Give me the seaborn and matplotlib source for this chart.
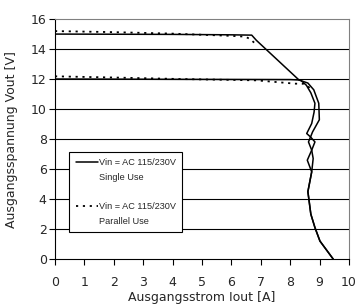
import numpy as np
import pandas as pd
import seaborn as sns
import matplotlib.pyplot as plt
from matplotlib.lines import Line2D

# Single use, 15 V output (solid)
single15_x = [0, 2, 4, 6, 6.69, 6.85, 8.3, 8.6, 8.8, 8.97, 8.99, 8.76, 8.69, 8.62, 8.73, 8.78, 8.73, 8.6, 8.7, 8.84, 9.01, 9.46]
single15_y = [15.02, 15.01, 15.0, 14.97, 14.95, 14.6, 11.95, 11.75, 11.3, 10.4, 9.3, 8.49, 8.15, 7.82, 7.27, 6.71, 5.82, 4.5, 3.0, 2.1, 1.2, 0.0]
# Single use, 12 V output (solid)
single12_x = [0, 2, 4, 6, 8.0, 8.35, 8.55, 8.7, 8.84, 8.81, 8.73, 8.56, 8.69, 8.84, 8.73, 8.58, 8.73, 8.6, 8.7, 8.84, 9.01, 9.46]
single12_y = [12.02, 12.01, 12.0, 11.99, 11.98, 11.95, 11.6, 11.1, 10.4, 9.8, 9.05, 8.38, 8.15, 7.82, 7.27, 6.6, 5.82, 4.5, 3.0, 2.1, 1.2, 0.0]
# Parallel use (dotted)
par15_x = [0, 2, 4, 6, 6.46, 6.63, 6.8]
par15_y = [15.22, 15.15, 15.05, 14.9, 14.85, 14.7, 14.4]
par12_x = [0, 2, 4.25, 6.86, 8.16, 8.45, 8.65, 8.75]
par12_y = [12.2, 12.12, 12.02, 11.93, 11.71, 11.7, 11.45, 11.25]

x_ticks = list(range(0, 11))
y_ticks = list(range(0, 17, 2))

sns.set_style("white")
plt.rcParams['font.family'] = ['DejaVu Sans']

fig = plt.figure(figsize=(3.58, 3.08), dpi=100)
ax = fig.add_axes([0.1536, 0.159, 0.8214, 0.778])

for y in y_ticks[1:-1]:
    ax.axhline(y, color="black", lw=0.8, zorder=1)

solid = dict(color="black", lw=1.1, sort=False, estimator=None, ax=ax, zorder=3)
sns.lineplot(x=single15_x, y=single15_y, **solid)
sns.lineplot(x=single12_x, y=single12_y, **solid)
dotted = dict(color="black", lw=1.3, sort=False, estimator=None, ax=ax, zorder=3)
sns.lineplot(x=par15_x, y=par15_y, **dotted)
sns.lineplot(x=par12_x, y=par12_y, **dotted)
for line in ax.lines[-2:]:
    line.set_linestyle((0, (1.2, 2.6)))

ax.set_xlim(0, 10)
ax.set_ylim(0, 16)
ax.set_xticks(x_ticks)
ax.set_yticks(y_ticks)
ax.tick_params(axis="both", direction="out", length=4, width=0.8, color="black",
               labelsize=9, pad=8, bottom=True, left=True)
ax.tick_params(axis="y", pad=2)
for side in ["top", "right"]:
    ax.spines[side].set_color("#808080")
    ax.spines[side].set_linewidth(0.8)
for side in ["left", "bottom"]:
    ax.spines[side].set_color("black")
    ax.spines[side].set_linewidth(0.8)

ax.set_xlabel("Ausgangsstrom Iout [A]", fontsize=9, labelpad=2)
ax.set_ylabel("Ausgangsspannung Vout [V]", fontsize=9, labelpad=9)

handles = [Line2D([], [], color="black", lw=1.1),
           Line2D([], [], color="none"),
           Line2D([], [], color="none"),
           Line2D([], [], color="black", lw=1.3, ls=(0, (1.2, 2.6))),
           Line2D([], [], color="none")]
labels = ["Vin = AC 115/230V", "Single Use", "", "Vin = AC 115/230V", "Parallel Use"]
leg = ax.legend(handles, labels, loc="lower left", bbox_to_anchor=(0.048, 0.1125),
                borderaxespad=0, frameon=True, fancybox=False, framealpha=1,
                edgecolor="black", handlelength=2.5, handletextpad=0.05,
                labelspacing=0.62, borderpad=0.7,
                prop={"family": ["Liberation Sans Narrow", "Liberation Sans"], "size": 6.6})
leg.get_frame().set_linewidth(0.8)
leg.set_zorder(5)

plt.savefig("out.png", dpi=100)
